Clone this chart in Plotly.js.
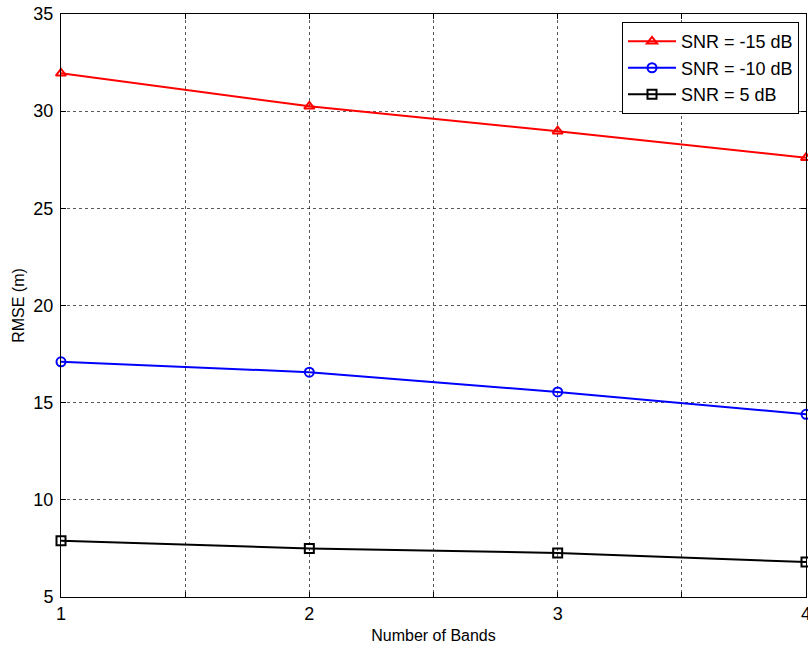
<!DOCTYPE html>
<html>
<head>
<meta charset="utf-8">
<script src="https://cdn.plot.ly/plotly-3.0.1.min.js"></script>
<style>html,body{margin:0;padding:0;background:#fff;}#chart{width:808px;height:653px;}</style>
</head>
<body>
<div id="chart"></div>
<script>
const bands = [1, 2, 3, 4];
const snrNeg15 = [31.95, 30.25, 28.97, 27.6];
const snrNeg10 = [17.1, 16.57, 15.55, 14.4];
const snr5 = [7.9, 7.5, 7.27, 6.8];
const seriesNames = ['SNR = -15 dB', 'SNR = -10 dB', 'SNR = 5 dB'];
const xTickVals = [1, 1.5, 2, 2.5, 3, 3.5, 4];
const xTickText = ['1', '', '2', '', '3', '', '4'];
const yTickVals = [5, 10, 15, 20, 25, 30, 35];

const FONT = 'Liberation Sans, Arial, sans-serif';

const mk = (y, name, color, symbol) => ({
  x: bands, y: y, name: name, type: 'scatter', mode: 'lines+markers',
  line: {color: color, width: 2},
  marker: {symbol: symbol, size: 9, color: color, line: {color: color, width: 2}},
  cliponaxis: false
});

const data = [
  mk(snrNeg15, seriesNames[0], '#ff0000', 'triangle-up-open'),
  mk(snrNeg10, seriesNames[1], '#0000ff', 'circle-open'),
  mk(snr5, seriesNames[2], '#000000', 'square-open')
];

const axisCommon = {
  showline: true, linecolor: '#000', linewidth: 1, mirror: 'ticks',
  ticks: 'inside', ticklen: 5, tickcolor: '#000',
  showgrid: true, gridcolor: 'rgba(0,0,0,0.65)', gridwidth: 1, griddash: '3px,3px',
  zeroline: false, ticklabeloverflow: 'allow',
  tickfont: {family: FONT, size: 18, color: '#000'}
};

const layout = {
  width: 808, height: 653,
  margin: {l: 61, r: 2, t: 14, b: 56},
  paper_bgcolor: '#fff', plot_bgcolor: '#fff',
  showlegend: true,
  xaxis: Object.assign({}, axisCommon, {
    range: [1, 4], tickmode: 'array', tickvals: xTickVals, ticktext: xTickText,
    ticklabelstandoff: 0,
    title: {text: 'Number of Bands', standoff: 7, font: {family: FONT, size: 16, color: '#000'}}
  }),
  yaxis: Object.assign({}, axisCommon, {
    range: [5, 35], tickmode: 'array', tickvals: yTickVals,
    ticklabelstandoff: 3,
    title: {text: 'RMSE (m)', standoff: 4, font: {family: FONT, size: 16, color: '#000'}}
  }),
  legend: {
    x: 0.9906, xanchor: 'right', y: 0.986, yanchor: 'top',
    bgcolor: '#fff', bordercolor: '#000', borderwidth: 1,
    font: {family: FONT, size: 18, color: '#000'},
    tracegroupgap: 0, itemwidth: 48
  }
};

Plotly.newPlot('chart', data, layout, {displayModeBar: false, staticPlot: true});
</script>
</body>
</html>
